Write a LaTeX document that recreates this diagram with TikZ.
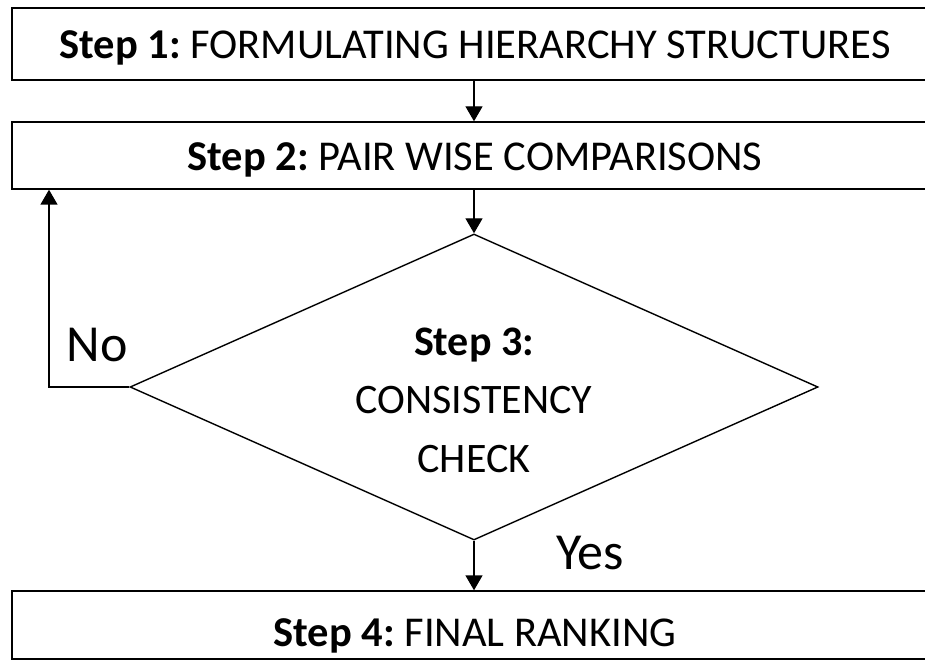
\documentclass[tikz,border=0pt]{standalone}
\usepackage{fontspec}
\setmainfont{Carlito}
\frenchspacing
\usetikzlibrary{shapes.geometric,arrows.meta}
\begin{document}
\begin{tikzpicture}[x=1pt,y=-1pt,
    stepbox/.style={draw,line width=1.4pt,minimum width=926pt,minimum height=72pt,inner sep=0pt,
      text height=30pt,text depth=0pt,font=\fontsize{42.5}{52}\selectfont},
    check/.style={draw,diamond,aspect=2.25,minimum width=688pt,minimum height=306pt,inner sep=0pt,
      align=center,line width=1.4pt,text height=170pt,text depth=0pt,font=\fontsize{42}{58.5}\selectfont},
    flow/.style={line width=1.4pt,-{Triangle[width=17pt,length=15pt]}},
    answer/.style={font=\fontsize{52}{60}\selectfont}]
  \useasboundingbox (0,0) rectangle (925,660);
  \clip (0,0) rectangle (925,660);
  \node[stepbox] (s1) at (475,44) {\textbf{Step 1:} FORMULATING HIERARCHY STRUCTURES};
  \node[stepbox,minimum height=67pt] (s2) at (475,155.5) {\textbf{Step 2:} PAIR WISE COMPARISONS};
  \node[check] (s3) at (474,387) {\textbf{Step 3:}\\CONSISTENCY\\CHECK};
  \node[stepbox,minimum height=68pt,text height=42pt] (s4) at (475,625) {\textbf{Step 4:} FINAL RANKING};
  \node[answer] (no) at (97,345) {No};
  \node[answer] (yes) at (590,553) {Yes};
  \coordinate (back) at (49,387);
  \draw[flow] (s3.north |- s1.south) -- (s3.north |- s2.north);
  \draw[flow] (s3.north |- s2.south) -- (s3.north);
  \draw[flow] (s3.west) -- (back) -- (back |- s2.south);
  \draw[flow] (s3.south) -- (s3.south |- s4.north);
\end{tikzpicture}
\end{document}
